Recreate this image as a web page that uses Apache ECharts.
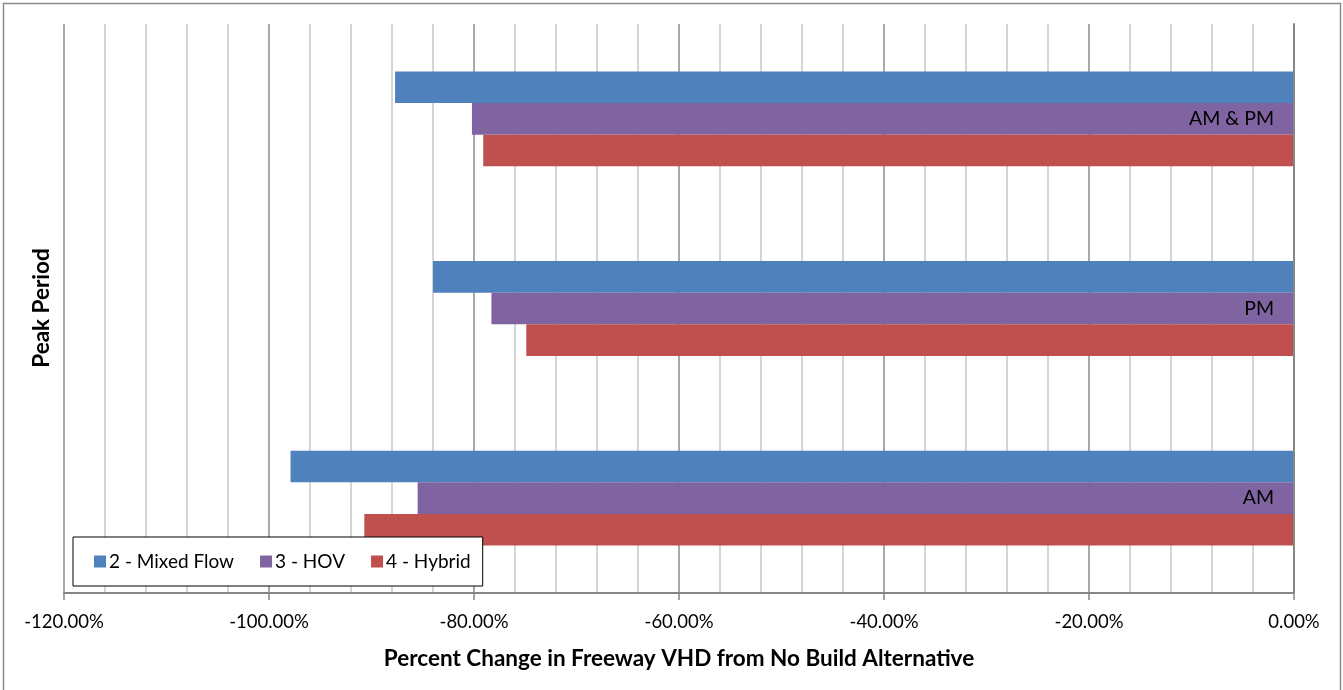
<!DOCTYPE html>
<html><head><meta charset="utf-8">
<script src="https://cdn.jsdelivr.net/npm/echarts@6/dist/echarts.min.js"></script>
<style>html,body{margin:0;padding:0;background:#fff}#c{width:1343px;height:690px}</style>
</head><body><div id="c"></div>
<script>
const categories = ['AM', 'PM', 'AM & PM'];
const seriesNames = ['2 - Mixed Flow', '3 - HOV', '4 - Hybrid'];
const mixedFlow = [-97.9, -84.0, -87.7];
const hov = [-85.5, -78.3, -80.2];
const hybrid = [-90.7, -74.9, -79.1];
const xTickMin = -120, xTickMax = 0, xTickStep = 20;

const FONT = 'Lato, "Open Sans", sans-serif';
const colors = ['#4F81BD', '#8064A2', '#C0504D'];
const values = [mixedFlow, hov, hybrid];

const chart = echarts.init(document.getElementById('c'));
chart.setOption({
  animation: false,
  textStyle: { fontFamily: FONT },
  grid: { left: 64, right: 49, top: 24, bottom: 97, containLabel: false, outerBoundsMode: 'none' },
  legend: {
    left: 73, top: 537,
    padding: [15, 12, 15, 21],
    itemGap: 26, itemWidth: 12, itemHeight: 12,
    borderColor: '#000', borderWidth: 1, backgroundColor: '#fff',
    icon: 'rect',
    textStyle: { fontFamily: FONT, fontSize: 19, color: '#000', padding: [0, 0, 0, -2] },
    data: seriesNames
  },
  xAxis: {
    type: 'value', min: xTickMin, max: xTickMax, interval: xTickStep,
    name: 'Percent Change in Freeway VHD from No Build Alternative',
    nameLocation: 'middle', nameGap: 54,
    nameTextStyle: { fontFamily: FONT, fontSize: 22.5, fontWeight: 'bold', color: '#000' },
    axisLine: { show: true, lineStyle: { color: '#868686', width: 2 } },
    axisTick: { show: true, length: 7, lineStyle: { color: '#868686', width: 1.5 } },
    axisLabel: { fontFamily: FONT, fontSize: 18.5, color: '#000', margin: 20,
      formatter: v => v.toFixed(2) + '%' },
    splitLine: { show: true, lineStyle: { color: '#8c8c8c', width: 1.5 } },
    minorTick: { show: false, splitNumber: 5 },
    minorSplitLine: { show: true, lineStyle: { color: '#c8c8c8', width: 1.5 } }
  },
  yAxis: {
    type: 'category', data: categories, position: 'right',
    axisLine: { show: true, onZero: false, lineStyle: { color: '#868686', width: 2 } },
    axisTick: { show: false },
    axisLabel: { inside: true, fontFamily: FONT, fontSize: 19.5, color: '#000', margin: 20 },
    splitLine: { show: false },
    z: 5
  },
  series: seriesNames.map((n, i) => ({
    name: n, type: 'bar', data: values[i],
    barGap: '0%', barCategoryGap: '50%',
    itemStyle: { color: colors[i] },
    z: 1
  })),
  graphic: [
    { type: 'rect', shape: { x: 3.5, y: 3.5, width: 1337, height: 700 },
      style: { fill: null, stroke: '#8a8a8a', lineWidth: 1.5 }, silent: true, z: -10 },
    { type: 'text', x: 42, y: 308, rotation: Math.PI / 2,
      style: { text: 'Peak Period', fontFamily: FONT, fontSize: 22.5, fontWeight: 'bold',
        fill: '#000', textAlign: 'center', textVerticalAlign: 'middle' } }
  ]
});
</script></body></html>
